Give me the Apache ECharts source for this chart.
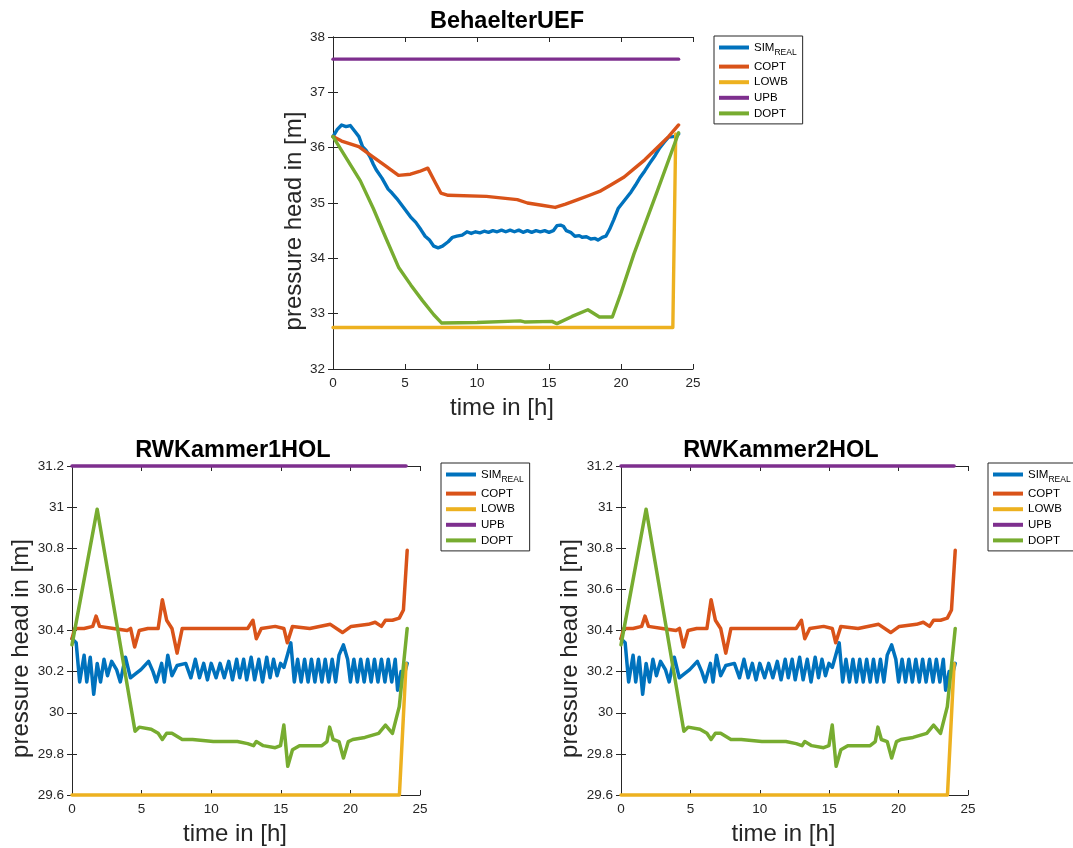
<!DOCTYPE html>
<html><head><meta charset="utf-8">
<script src="https://cdn.jsdelivr.net/npm/echarts@6/dist/echarts.min.js"></script>
<style>html,body{margin:0;padding:0;background:#fff}#c{width:1073px;height:848px}</style>
</head><body><div id="c"></div><script>
// ---------- data ----------
const seriesNames = ['SIM_REAL', 'COPT', 'LOWB', 'UPB', 'DOPT'];
const plotTitles = ['BehaelterUEF', 'RWKammer1HOL', 'RWKammer2HOL'];
const xTicks = [0, 5, 10, 15, 20, 25];

// BehaelterUEF  [time h, pressure head m]
const uefSim = [[0,36.2],[0.3,36.33],[0.6,36.41],[0.9,36.38],[1.2,36.4],[1.5,36.3],[1.8,36.2],[2.05,36.02],[2.3,35.95],[2.56,35.84],[2.8,35.7],[3.0,35.6],[3.4,35.45],[3.83,35.25],[4.1,35.18],[4.43,35.08],[4.9,34.92],[5.38,34.75],[5.75,34.65],[6.1,34.52],[6.4,34.4],[6.7,34.33],[7.0,34.22],[7.3,34.19],[7.6,34.22],[8.0,34.3],[8.3,34.38],[8.6,34.4],[8.97,34.42],[9.3,34.48],[9.6,34.45],[9.9,34.48],[10.2,34.46],[10.5,34.49],[10.8,34.47],[11.1,34.5],[11.4,34.48],[11.7,34.51],[12.0,34.48],[12.3,34.51],[12.6,34.48],[12.9,34.51],[13.2,34.47],[13.5,34.5],[13.8,34.47],[14.1,34.5],[14.4,34.48],[14.7,34.5],[15.0,34.47],[15.3,34.5],[15.55,34.59],[15.8,34.6],[16.0,34.58],[16.2,34.5],[16.5,34.47],[16.8,34.4],[17.1,34.41],[17.3,34.38],[17.6,34.39],[17.9,34.35],[18.2,34.36],[18.4,34.33],[18.7,34.38],[18.95,34.4],[19.2,34.52],[19.5,34.7],[19.8,34.9],[20.1,35.0],[20.4,35.1],[20.7,35.2],[21.0,35.32],[21.3,35.45],[21.65,35.58],[22.0,35.72],[22.37,35.86],[22.7,36.0],[23.0,36.1],[23.3,36.19],[23.6,36.2],[23.8,36.21],[24.0,36.25]];
const uefCopt = [[0,36.2],[0.6,36.12],[1.79,36.02],[2.75,35.84],[3.6,35.68],[4.55,35.5],[5.38,35.52],[6.0,35.57],[6.58,35.63],[7.1,35.37],[7.49,35.18],[8.0,35.14],[10.65,35.12],[12.8,35.06],[13.5,35.0],[14.5,34.96],[15.43,34.92],[16.15,34.98],[17.0,35.06],[17.82,35.14],[18.6,35.22],[19.26,35.32],[20.22,35.47],[21.0,35.64],[21.65,35.78],[22.6,36.02],[23.3,36.2],[24.0,36.41]];
const uefLowb = [[0,32.75],[23.6,32.75],[23.8,36.25]];
const uefUpb = [[0,37.6],[24,37.6]];
const uefDopt = [[0,36.2],[1.9,35.4],[2.8,34.9],[3.7,34.35],[4.55,33.84],[5.4,33.52],[6.2,33.24],[7.0,32.98],[7.55,32.83],[10,32.84],[13.0,32.87],[13.3,32.85],[15.2,32.86],[15.55,32.82],[16.6,32.95],[17.7,33.07],[18.5,32.94],[19.4,32.94],[19.98,33.36],[20.9,34.08],[22.5,35.2],[24.0,36.27]];

// RWKammer1HOL
const k1Sim = [[0,30.36],[0.3,30.34],[0.55,30.15],[0.87,30.28],[1.06,30.15],[1.31,30.27],[1.56,30.09],[1.81,30.24],[2.05,30.15],[2.3,30.26],[2.55,30.18],[2.85,30.25],[3.2,30.21],[3.47,30.15],[3.84,30.27],[4.2,30.17],[4.58,30.19],[4.95,30.21],[5.5,30.25],[5.82,30.2],[6.06,30.15],[6.44,30.24],[6.63,30.15],[6.88,30.28],[7.18,30.18],[7.55,30.23],[8.17,30.24],[8.54,30.17],[8.86,30.26],[9.16,30.17],[9.46,30.24],[9.73,30.16],[10.0,30.24],[10.35,30.17],[10.64,30.24],[10.94,30.17],[11.26,30.25],[11.53,30.16],[11.83,30.26],[12.05,30.17],[12.33,30.26],[12.55,30.16],[12.87,30.27],[13.12,30.16],[13.42,30.26],[13.69,30.15],[13.99,30.27],[14.23,30.17],[14.48,30.26],[14.73,30.18],[14.98,30.24],[15.22,30.22],[15.47,30.28],[15.72,30.34],[15.97,30.15],[16.21,30.26],[16.46,30.15],[16.71,30.26],[16.96,30.15],[17.2,30.26],[17.45,30.15],[17.7,30.26],[17.95,30.15],[18.19,30.26],[18.44,30.15],[18.69,30.26],[18.94,30.15],[19.18,30.28],[19.5,30.33],[19.8,30.26],[20.0,30.15],[20.25,30.26],[20.5,30.15],[20.74,30.26],[20.99,30.15],[21.24,30.26],[21.49,30.15],[21.73,30.26],[21.98,30.15],[22.23,30.26],[22.48,30.15],[22.72,30.26],[22.97,30.15],[23.22,30.26],[23.39,30.11],[23.64,30.2],[23.89,30.19],[24.08,30.24]];
const k1Copt = [[0,30.36],[0.2,30.41],[0.87,30.41],[1.49,30.42],[1.73,30.47],[1.98,30.42],[2.97,30.41],[3.96,30.4],[4.21,30.41],[4.5,30.32],[4.83,30.4],[5.45,30.41],[6.19,30.41],[6.49,30.55],[6.8,30.45],[7.18,30.41],[7.55,30.29],[7.92,30.41],[8.66,30.41],[10.89,30.41],[12.62,30.41],[13.0,30.45],[13.24,30.36],[13.6,30.41],[14.6,30.42],[15.22,30.41],[15.47,30.34],[15.84,30.42],[17.08,30.41],[18.56,30.43],[19.43,30.39],[20.05,30.42],[21.29,30.43],[21.78,30.44],[22.23,30.42],[22.52,30.45],[23.02,30.45],[23.51,30.46],[23.81,30.5],[24.08,30.79]];
const k1Lowb = [[0,29.6],[23.52,29.6],[24.0,30.24]];
const k1Upb = [[0,31.2],[24,31.2]];
const k1Dopt = [[0,30.33],[1.81,30.99],[4.53,29.91],[4.83,29.93],[5.69,29.92],[6.19,29.9],[6.49,29.87],[6.8,29.9],[7.18,29.9],[7.92,29.87],[8.66,29.87],[10.15,29.86],[11.88,29.86],[12.62,29.85],[13.04,29.84],[13.24,29.86],[13.74,29.84],[14.6,29.83],[14.98,29.84],[15.22,29.94],[15.5,29.74],[15.84,29.82],[16.34,29.84],[17.95,29.84],[18.32,29.86],[18.51,29.93],[18.76,29.87],[19.18,29.86],[19.5,29.78],[19.85,29.86],[20.17,29.87],[21.04,29.88],[22.03,29.9],[22.52,29.94],[23.02,29.9],[23.51,30.03],[24.08,30.41]];

// RWKammer2HOL (identical curves in the reference)
const k2Sim = k1Sim, k2Copt = k1Copt, k2Lowb = k1Lowb, k2Upb = k1Upb, k2Dopt = k1Dopt;

const yRanges = [[32, 38, 1], [29.6, 31.2, 0.2], [29.6, 31.2, 0.2]];
const plotData = [
  [uefSim, uefCopt, uefLowb, uefUpb, uefDopt],
  [k1Sim, k1Copt, k1Lowb, k1Upb, k1Dopt],
  [k2Sim, k2Copt, k2Lowb, k2Upb, k2Dopt]
];

// ---------- styling / layout ----------
const FONT = '"Liberation Sans", Arial, Helvetica, sans-serif';
const AX = '#262626';
const colors = ['#0072BD', '#D95319', '#EDB120', '#7E2F8E', '#77AC30'];
const grids = [
  {left: 333, top: 37, width: 360, height: 332},
  {left: 72, top: 466, width: 348, height: 329},
  {left: 621, top: 466, width: 347, height: 329}
];
const titlePos = [{x: 502, y: 5}, {x: 228, y: 434}, {x: 776, y: 434}];
const legendPos = [{left: 714, top: 36}, {left: 441, top: 463}, {left: 988, top: 463}];
const yNameGap = [25, 38, 38];
const xNameGap = [27, 27, 27];

const xAxes = [], yAxes = [], series = [], titles = [], legends = [];
grids.forEach((g, i) => {
  const [ymin, ymax, yint] = yRanges[i];
  const common = {gridIndex: i, type: 'value', axisLine: {show: true, lineStyle: {color: AX, width: 1}},
    axisTick: {show: true, inside: true, length: 5, lineStyle: {color: AX}}, splitLine: {show: false}};
  xAxes.push(Object.assign({}, common, {min: 0, max: 25, interval: 5, position: 'bottom',
    name: 'time in [h]', nameLocation: 'middle', nameGap: xNameGap[i],
    nameTextStyle: {fontSize: 24, color: AX, fontFamily: FONT, padding: [0, 22, 0, 0]},
    axisLabel: {fontSize: 13.5, color: AX, fontFamily: FONT, margin: 7}}));
  xAxes.push(Object.assign({}, common, {min: 0, max: 25, interval: 5, position: 'top', axisLabel: {show: false}}));
  yAxes.push(Object.assign({}, common, {min: ymin, max: ymax, interval: yint, position: 'left',
    name: 'pressure head in [m]', nameLocation: 'middle', nameGap: yNameGap[i],
    nameTextStyle: {fontSize: 24, color: AX, fontFamily: FONT, padding: [0, 36, 0, 0]},
    axisLabel: {fontSize: 13.5, color: AX, fontFamily: FONT, margin: 8,
      formatter: v => String(Math.round(v * 10) / 10)}}));
  yAxes.push(Object.assign({}, common, {min: ymin, max: ymax, interval: yint, position: 'right', axisLabel: {show: false}}));

  plotData[i].forEach((d, k) => {
    series.push({type: 'line', name: seriesNames[k], data: d, xAxisIndex: 2 * i, yAxisIndex: 2 * i,
      showSymbol: false, symbol: 'none', clip: false, animation: false,
      lineStyle: {color: colors[k], width: i === 0 ? 3.4 : 3.5, join: 'round', cap: 'round'},
      itemStyle: {color: colors[k]}, z: 2 + k});
  });

  titles.push({text: plotTitles[i], left: titlePos[i].x, top: titlePos[i].y, textAlign: 'center',
    textStyle: {fontSize: 23.5, fontWeight: 'bold', color: '#000', fontFamily: FONT}});

  legends.push({data: seriesNames, orient: 'vertical', left: legendPos[i].left, top: legendPos[i].top,
    backgroundColor: '#fff', borderColor: AX, borderWidth: 1, padding: [5, 6, 4, 5],
    itemWidth: 30, itemHeight: 4, itemGap: 2.6, icon: 'rect', selectedMode: false,
    formatter: n => n === 'SIM_REAL' ? '{a|SIM}{s|REAL}' : n,
    textStyle: {fontSize: 11.5, color: '#000', fontFamily: FONT, lineHeight: 13,
      rich: {a: {fontSize: 11.5, fontFamily: FONT, color: '#000', lineHeight: 13},
             s: {fontSize: 8.5, fontFamily: FONT, color: '#000', padding: [11, 0, 0, 0]}}}});
});

const chart = echarts.init(document.getElementById('c'), null, {renderer: 'canvas'});
chart.setOption({
  backgroundColor: '#fff', animation: false,
  title: titles, legend: legends, grid: grids,
  xAxis: xAxes, yAxis: yAxes, series: series
});
</script></body></html>
